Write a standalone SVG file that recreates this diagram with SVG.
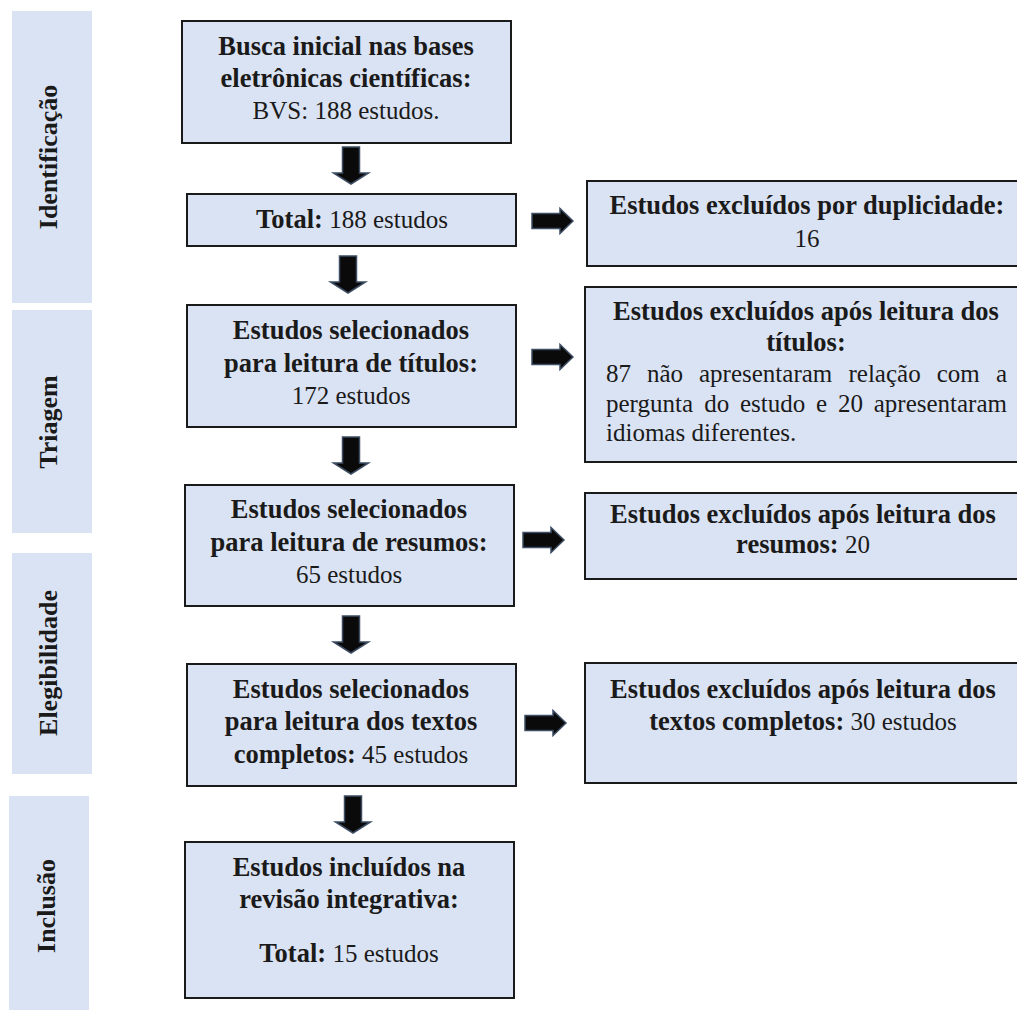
<svg xmlns="http://www.w3.org/2000/svg" width="1017" height="1010" viewBox="0 0 1017 1010">
<style>
.bar{fill:#DAE3F3}
.box{fill:#DAE3F3;stroke:#1a1a1a;stroke-width:2}
.t{font-family:"Liberation Serif","Times New Roman",serif;font-size:25px;fill:#1a1a1a}
.c{text-anchor:middle}
.b{font-weight:bold;font-size:26.5px}
.lab{font-family:"Liberation Serif","Times New Roman",serif;font-size:26px;font-weight:bold;fill:#1a1a1a;text-anchor:middle}
.arr{fill:#0a0a0a;stroke:#3d4d63;stroke-width:1.5}
</style>
<defs>
<path id="ad" d="M-8.5,0 H8.5 V26 H17.5 L0,37 L-17.5,26 H-8.5 Z"/>
<path id="ar" d="M0,-7.5 H28 V-12.5 L41,0 L28,12.5 V7.5 H0 Z"/>
</defs>
<g id="stages">
<g id="stage-identificacao"><rect class="bar" x="12" y="11" width="80" height="292"/><text class="lab" transform="translate(57,157) rotate(-90)">Identificação</text></g>
<g id="stage-triagem"><rect class="bar" x="12" y="310" width="80" height="223"/><text class="lab" transform="translate(57,422) rotate(-90)">Triagem</text></g>
<g id="stage-elegibilidade"><rect class="bar" x="12" y="553" width="80" height="221"/><text class="lab" transform="translate(57,663) rotate(-90)">Elegibilidade</text></g>
<g id="stage-inclusao"><rect class="bar" x="9" y="796" width="80" height="214"/><text class="lab" transform="translate(55,906) rotate(-90)">Inclusão</text></g>
</g>
<g id="n1"><rect class="box" x="182" y="21" width="329" height="122"/>
<text class="t c b" x="346" y="55">Busca inicial nas bases</text>
<text class="t c b" x="346" y="87">eletrônicas científicas:</text>
<text class="t c" x="346" y="119">BVS: 188 estudos.</text></g>
<g id="n2"><rect class="box" x="187" y="194" width="329" height="52"/>
<text class="t c" x="352" y="228"><tspan class="b">Total:</tspan> 188 estudos</text></g>
<g id="n3"><rect class="box" x="187" y="305" width="329" height="122"/>
<text class="t c b" x="351" y="339">Estudos selecionados</text>
<text class="t c b" x="351" y="372">para leitura de títulos:</text>
<text class="t c" x="351" y="404">172 estudos</text></g>
<g id="n4"><rect class="box" x="185" y="485" width="329" height="121"/>
<text class="t c b" x="349" y="518">Estudos selecionados</text>
<text class="t c b" x="349" y="551">para leitura de resumos:</text>
<text class="t c" x="349" y="583">65 estudos</text></g>
<g id="n5"><rect class="box" x="187" y="664" width="329" height="122"/>
<text class="t c b" x="351" y="698">Estudos selecionados</text>
<text class="t c b" x="351" y="730">para leitura dos textos</text>
<text class="t c" x="351" y="763"><tspan class="b">completos:</tspan> 45 estudos</text></g>
<g id="n6"><rect class="box" x="185" y="842" width="329" height="156"/>
<text class="t c b" x="349" y="876">Estudos incluídos na</text>
<text class="t c b" x="349" y="908">revisão integrativa:</text>
<text class="t c" x="349" y="962"><tspan class="b">Total:</tspan> 15 estudos</text></g>
<g id="r1"><rect class="box" x="587" y="181" width="431" height="85"/>
<text class="t c b" x="807" y="214">Estudos excluídos por duplicidade:</text>
<text class="t c" x="807" y="247">16</text></g>
<g id="r2"><rect class="box" x="585" y="287" width="433" height="175"/>
<text class="t c b" x="806" y="320">Estudos excluídos após leitura dos</text>
<text class="t c b" x="806" y="351">títulos:</text>
<text class="t" y="382"><tspan x="606">87</tspan><tspan x="647">não</tspan><tspan x="699">apresentaram</tspan><tspan x="848.5">relação</tspan><tspan x="936.7">com</tspan></text>
<text class="t" x="1007" y="382" text-anchor="end">a</text>
<text class="t" y="412"><tspan x="606">pergunta</tspan><tspan x="704.3">do</tspan><tspan x="740">estudo</tspan><tspan x="816.1">e</tspan><tspan x="838">20</tspan></text>
<text class="t" x="1007" y="412" text-anchor="end">apresentaram</text>
<text class="t" x="606" y="441">idiomas diferentes.</text></g>
<g id="r3"><rect class="box" x="585" y="493" width="433" height="86"/>
<text class="t c b" x="803" y="523">Estudos excluídos após leitura dos</text>
<text class="t c" x="803" y="553"><tspan class="b">resumos:</tspan> 20</text></g>
<g id="r4"><rect class="box" x="585" y="663" width="433" height="120"/>
<text class="t c b" x="803" y="698">Estudos excluídos após leitura dos</text>
<text class="t c" x="803" y="730"><tspan class="b">textos completos:</tspan> 30 estudos</text></g>
<g id="connectors">
<use href="#ad" class="arr" transform="translate(351,147)"/>
<use href="#ad" class="arr" transform="translate(348,256)"/>
<use href="#ad" class="arr" transform="translate(351,437)"/>
<use href="#ad" class="arr" transform="translate(351,616)"/>
<use href="#ad" class="arr" transform="translate(353,796)"/>
<use href="#ar" class="arr" transform="translate(532,221)"/>
<use href="#ar" class="arr" transform="translate(532,357)"/>
<use href="#ar" class="arr" transform="translate(523,540)"/>
<use href="#ar" class="arr" transform="translate(525,723)"/>
</g>
</svg>
